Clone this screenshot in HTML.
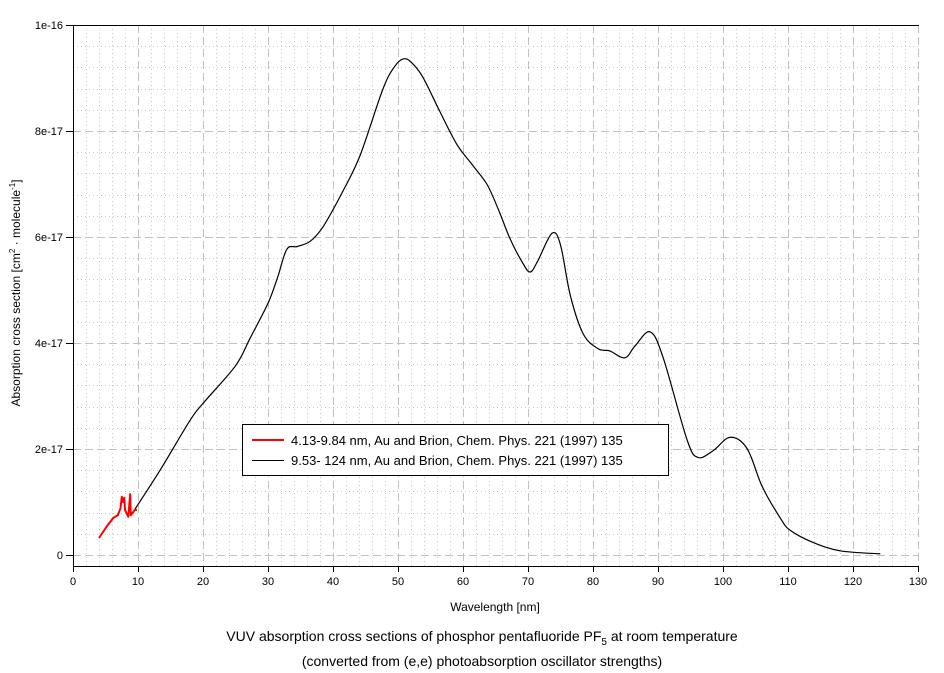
<!DOCTYPE html>
<html><head><meta charset="utf-8"><style>
body{margin:0;background:#fff;}
svg{display:block;font-family:"Liberation Sans",Arial,sans-serif;}
</style></head><body>
<svg id="chart" width="944" height="673" viewBox="0 0 944 673" xmlns="http://www.w3.org/2000/svg">
<g id="grid"></g>
<g id="axes"></g>
<g id="series"></g>
<g>
<rect x="242.5" y="424.5" width="426" height="51" fill="#fff" stroke="#000" stroke-width="1"/>
<line x1="252" y1="440" x2="284" y2="440" stroke="#f00" stroke-width="2"/>
<text x="291" y="445" font-size="13">4.13-9.84 nm, Au and Brion, Chem. Phys. 221 (1997) 135</text>
<line x1="252" y1="460.5" x2="284" y2="460.5" stroke="#000" stroke-width="1"/>
<text x="291" y="465" font-size="13">9.53- 124 nm, Au and Brion, Chem. Phys. 221 (1997) 135</text>
</g>
<text x="495" y="611" font-size="12" text-anchor="middle">Wavelength [nm]</text>
<text transform="translate(20,293) rotate(-90)" font-size="12" text-anchor="middle">Absorption cross section [cm<tspan font-size="8" dy="-5">2</tspan><tspan dy="5"> · molecule</tspan><tspan font-size="8" dy="-5">-1</tspan><tspan dy="5">]</tspan></text>
<text x="482" y="641" font-size="14" text-anchor="middle">VUV absorption cross sections of phosphor pentafluoride PF<tspan font-size="10" dy="4">5</tspan><tspan dy="-4"> at room temperature</tspan></text>
<text x="482" y="666" font-size="14" text-anchor="middle">(converted from (e,e) photoabsorption oscillator strengths)</text>
</svg>
<script>
const xTicks=[0,10,20,30,40,50,60,70,80,90,100,110,120,130];
const yTicks=[0,2,4,6,8,10];
const yTickLabels=["0","2e-17","4e-17","6e-17","8e-17","1e-16"];
const redX=[4.0,5.2,6.2,6.9,7.3,7.5,7.7,7.9,8.0,8.5,8.8,8.9,9.5,9.84];
const redY=[0.32,0.54,0.70,0.75,0.88,1.1,1.0,1.08,0.85,0.72,1.15,0.75,0.85,0.85];
const blackX=[9.5,13.4,18,20,25,27.2,30,31.5,32.9,34.5,36.5,38.5,41.5,44.2,47.7,49.5,50.8,52,53.8,56.5,59.1,61.5,63.7,65.5,67.2,69,70.3,71.5,73.7,75,76.5,78.5,80.8,82.6,84.9,86.5,88.8,90.8,94.5,96.2,98.5,101.1,103.7,106,108.8,110.3,113.8,118,124.2];
const blackY=[0.86,1.6,2.54,2.86,3.57,4.08,4.75,5.25,5.77,5.82,5.92,6.2,6.86,7.55,8.8,9.22,9.36,9.3,9.02,8.35,7.74,7.35,6.99,6.5,5.98,5.55,5.34,5.55,6.07,5.85,4.9,4.17,3.89,3.85,3.72,3.95,4.21,3.72,2.16,1.84,1.97,2.22,2.01,1.3,0.70,0.47,0.24,0.08,0.02];
const NS="http://www.w3.org/2000/svg";
const X0=73,X1=918,Y0=555,YT=25;
function sx(v){return X0+(X1-X0)*v/130;}
function sy(v){return Y0-(Y0-YT)*v/10;}
function mk(tag,attrs,parent){const e=document.createElementNS(NS,tag);for(const k in attrs)e.setAttribute(k,attrs[k]);parent.appendChild(e);return e;}
const grid=document.getElementById('grid'),axes=document.getElementById('axes'),series=document.getElementById('series');
for(let i=1;i<=65;i++){const v=i*2;const major=v%10===0;
 const l=mk('line',{x1:sx(v)+0.5,x2:sx(v)+0.5,y1:YT,y2:566,stroke:major?'#c0c0c0':'#c8c8c8','stroke-width':1,'stroke-dasharray':major?'8,4':'1,3'},grid);
 
 }
for(let i=0;i<25;i++){const r=i*0.4;const major=i%5===0;
 const l=mk('line',{x1:X0,x2:X1,y1:Math.round(sy(r))+0.5,y2:Math.round(sy(r))+0.5,stroke:major?'#c0c0c0':'#c8c8c8','stroke-width':1,'stroke-dasharray':major?'8,4':'1,3'},grid);
 
 }
mk('line',{x1:X0+0.5,x2:X0+0.5,y1:YT,y2:566,stroke:'#000'},axes);
mk('line',{x1:X0,x2:X1+1,y1:566.5,y2:566.5,stroke:'#000'},axes);
mk('line',{x1:X0,x2:X1+1,y1:YT+0.5,y2:YT+0.5,stroke:'#000'},axes);
xTicks.forEach(v=>{mk('line',{x1:sx(v)+0.5,x2:sx(v)+0.5,y1:566,y2:572,stroke:'#000'},axes);
 const t=mk('text',{x:sx(v),y:585,'font-size':11,'text-anchor':'middle'},axes);t.textContent=v;
 
 });
yTicks.forEach((v,i)=>{mk('line',{x1:66,x2:X0,y1:sy(v)+0.5,y2:sy(v)+0.5,stroke:'#000'},axes);
 const t=mk('text',{x:63,y:sy(v)+4,'font-size':11,'text-anchor':'end'},axes);t.textContent=yTickLabels[i];
 
 });
function smoothPath(xs,ys){const P=xs.map((x,i)=>[sx(x),sy(ys[i])]);let d='M'+P[0][0].toFixed(1)+','+P[0][1].toFixed(1);
 for(let i=0;i<P.length-1;i++){const p0=P[Math.max(0,i-1)],p1=P[i],p2=P[i+1],p3=P[Math.min(P.length-1,i+2)];
  const c1=[p1[0]+(p2[0]-p0[0])/6,p1[1]+(p2[1]-p0[1])/6],c2=[p2[0]-(p3[0]-p1[0])/6,p2[1]-(p3[1]-p1[1])/6];
  d+='C'+c1.map(v=>v.toFixed(1)).join(',')+' '+c2.map(v=>v.toFixed(1)).join(',')+' '+p2.map(v=>v.toFixed(1)).join(',');}
 return d;}
function straightPath(xs,ys){return xs.map((x,i)=>(i?'L':'M')+sx(x).toFixed(1)+','+sy(ys[i]).toFixed(1)).join('');}
const pb=mk('path',{d:smoothPath(blackX,blackY),fill:'none',stroke:'#000','stroke-width':1.2},series);


const pr=mk('path',{d:straightPath(redX,redY),fill:'none',stroke:'#f00','stroke-width':2,'stroke-linejoin':'round'},series);


</script>
</body></html>
